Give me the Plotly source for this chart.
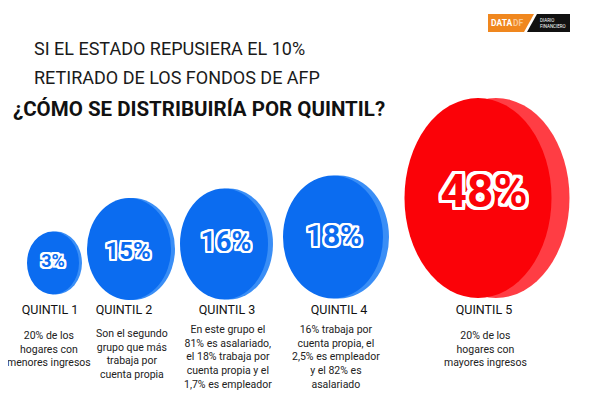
import plotly.graph_objects as go

# ---------------- data ----------------
quintiles = ["QUINTIL 1", "QUINTIL 2", "QUINTIL 3", "QUINTIL 4", "QUINTIL 5"]
values = [3, 15, 16, 18, 48]
descriptions = [
    "20% de los<br>hogares con<br>menores ingresos",
    "Son el segundo<br>grupo que más<br>trabaja por<br>cuenta propia",
    "En este grupo el<br>81% es asalariado,<br>el 18% trabaja por<br>cuenta propia y el<br>1,7% es empleador",
    "16% trabaja por<br>cuenta propia, el<br>2,5% es empleador<br>y el 82% es<br>asalariado",
    "20% de los<br>hogares con<br>mayores ingresos",
]
title_lines = [
    "SI EL ESTADO REPUSIERA EL 10%",
    "RETIRADO DE LOS FONDOS DE AFP",
    "¿CÓMO SE DISTRIBUIRÍA POR QUINTIL?",
]

# ---------------- layout constants (page-pixel canvas) ----------------
disc_cx = [53, 129, 224, 333, 478]
disc_cy = [263, 249, 244, 237, 198]
disc_w = [52, 84, 88, 100, 147]
disc_h = [63, 102, 111, 123, 200]
disc_depth = [3, 4, 5, 6, 18]
text_x = [53, 128, 226, 334, 484]
text_y = [262, 253, 244, 238, 195]
text_size = [18, 24, 27, 30, 46]
label_x = [50, 124, 227, 339, 484]
label_y = 311
desc_x = [49, 132, 228, 336, 485]
desc_top = [327, 325, 321, 321, 327]

BLUE = "#0b6cf0"
BLUE_SIDE = "#3a8ef6"
RED = "#fb0208"
RED_SIDE = "#ff3d44"
FONT = "Roboto, sans-serif"

fig = go.Figure()
shapes = []
for i, v in enumerate(values):
    front = RED if i == len(values) - 1 else BLUE
    side = RED_SIDE if i == len(values) - 1 else BLUE_SIDE
    cx, cy, w, h, d = disc_cx[i], disc_cy[i], disc_w[i], disc_h[i], disc_depth[i]
    shapes.append(dict(type="circle", xref="x", yref="y",
                       x0=cx - w / 2 + d, x1=cx + w / 2 + d, y0=cy - h / 2, y1=cy + h / 2,
                       fillcolor=side, line=dict(width=0), layer="below"))
    shapes.append(dict(type="circle", xref="x", yref="y",
                       x0=cx - w / 2, x1=cx + w / 2, y0=cy - h / 2, y1=cy + h / 2,
                       fillcolor=front, line=dict(width=0), layer="below"))

# logo
shapes.append(dict(type="path", xref="x", yref="y",
                   path="M 488 14 L 534 14 L 524 32 L 488 32 Z",
                   fillcolor="#f0871e", line=dict(width=0)))
shapes.append(dict(type="path", xref="x", yref="y",
                   path="M 537 14 L 570 14 L 570 32 L 527 32 Z",
                   fillcolor="#111111", line=dict(width=0)))


def outline(color, px):
    offs = []
    for dx in range(-px, px + 1):
        for dy in range(-px, px + 1):
            if dx == 0 and dy == 0:
                continue
            offs.append(f"{dx}px {dy}px 0 {color}")
    return ", ".join(offs)


# percentages (blue discs)
fig.add_trace(go.Scatter(
    x=text_x[:4], y=text_y[:4], mode="text",
    text=[f"{v}%" for v in values[:4]],
    textfont=dict(family=FONT, size=text_size[:4], color=BLUE, weight="bold",
                  shadow=outline("#ffffff", 2)),
    hoverinfo="skip", showlegend=False))
# percentage (red disc)
fig.add_trace(go.Scatter(
    x=text_x[4:], y=text_y[4:], mode="text",
    text=[f"{v}%" for v in values[4:]],
    textfont=dict(family=FONT, size=text_size[4:], color=RED, weight="bold",
                  shadow=outline("#ffffff", 3)),
    hoverinfo="skip", showlegend=False))

# quintil labels
fig.add_trace(go.Scatter(
    x=label_x, y=[label_y] * len(quintiles), mode="text", text=quintiles,
    textfont=dict(family=FONT, size=12.5, color="#111111"),
    hoverinfo="skip", showlegend=False))

annotations = []
for i, d in enumerate(descriptions):
    annotations.append(dict(x=desc_x[i], y=desc_top[i], xref="x", yref="y",
                            text=d, showarrow=False, xanchor="center", yanchor="top",
                            align="center",
                            font=dict(family=FONT, size=10.5, color="#222222")))

# titles
annotations.append(dict(x=32, y=48, xref="x", yref="y", text=title_lines[0], showarrow=False,
                        xanchor="left", yanchor="middle",
                        font=dict(family=FONT, size=18, color="#1a1a1a")))
annotations.append(dict(x=32, y=77, xref="x", yref="y", text=title_lines[1], showarrow=False,
                        xanchor="left", yanchor="middle",
                        font=dict(family=FONT, size=18, color="#1a1a1a")))
annotations.append(dict(x=11, y=109, xref="x", yref="y", text=title_lines[2], showarrow=False,
                        xanchor="left", yanchor="middle",
                        font=dict(family=FONT, size=20.5, color="#111111", weight="bold")))

# logo text
annotations.append(dict(x=489, y=23, xref="x", yref="y", text="<b>DATA</b>", showarrow=False,
                        xanchor="left", yanchor="middle",
                        font=dict(family=FONT, size=8.5, color="#ffffff")))
annotations.append(dict(x=511, y=23, xref="x", yref="y", text="<b>DF</b>", showarrow=False,
                        xanchor="left", yanchor="middle",
                        font=dict(family=FONT, size=8.5, color="#f9c795")))
annotations.append(dict(x=538, y=23, xref="x", yref="y", text="DIARIO<br>FINANCIERO", showarrow=False,
                        xanchor="left", yanchor="middle", align="left",
                        font=dict(family=FONT, size=4.5, color="#ffffff")))

# The page body has an 8px margin: map the axes so data units equal page pixels.
fig.update_layout(
    width=592, height=392,
    margin=dict(l=0, r=0, t=0, b=0),
    paper_bgcolor="#ffffff", plot_bgcolor="#ffffff",
    xaxis=dict(range=[8, 600], visible=False, fixedrange=True),
    yaxis=dict(range=[400, 8], visible=False, fixedrange=True),
    shapes=shapes, annotations=annotations, showlegend=False,
)
fig.write_html("out.html")
